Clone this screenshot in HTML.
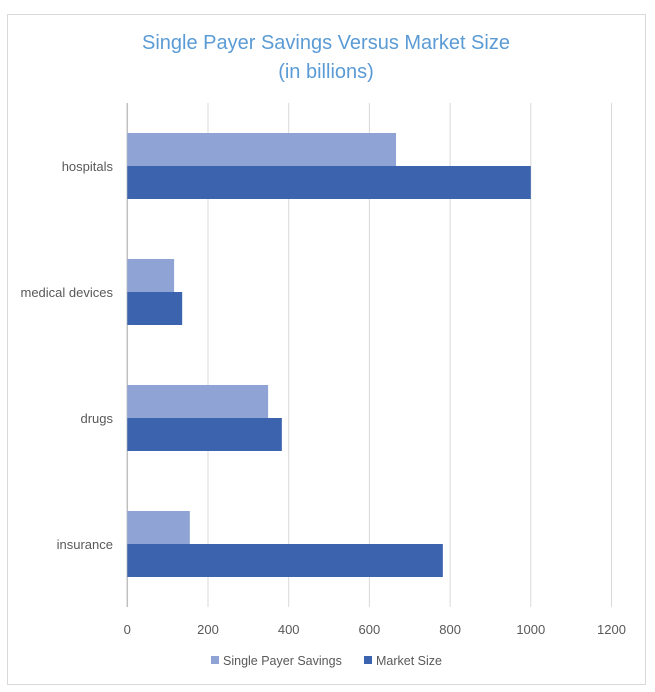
<!DOCTYPE html>
<html><head><meta charset="utf-8"><style>
body{margin:0;background:#fff;}
svg{display:block;font-family:"Liberation Sans",sans-serif;}
</style></head><body>
<svg id="chart" width="655" height="692">
<rect x="7.5" y="14.5" width="638" height="670" fill="#fff" stroke="#d9d9d9"/>
<text x="326" y="49" text-anchor="middle" font-size="20" fill="#5b9bd5">Single Payer Savings Versus Market Size</text>
<text x="326" y="78" text-anchor="middle" font-size="20" fill="#5b9bd5">(in billions)</text>
<g id="grid"></g><g id="bars"></g><g id="labels"></g>
<g>
<rect x="211" y="656" width="8" height="8" fill="#8fa4d5"/>
<text x="223" y="665" font-size="12.5" fill="#595959">Single Payer Savings</text>
<rect x="364" y="656" width="8" height="8" fill="#3b63ae"/>
<text x="376" y="665" font-size="12.5" fill="#595959">Market Size</text>
</g>
</svg>
<script>
const categories = ["hospitals","medical devices","drugs","insurance"];
const savings = [666,116,349,155];
const marketSize = [1000,136,383,782];
const ticks = [0,200,400,600,800,1000,1200];
const NS="http://www.w3.org/2000/svg";
const x0=127.3, pxPer=0.4035, plotTop=103, plotBottom=607;
const band=(plotBottom-plotTop)/categories.length, barH=33;
const xs=v=>x0+v*pxPer;
function mk(t,a,p){const e=document.createElementNS(NS,t);for(const k in a)e.setAttribute(k,a[k]);p.appendChild(e);return e;}
const grid=document.getElementById('grid'),bars=document.getElementById('bars'),labels=document.getElementById('labels');
ticks.forEach(t=>{
  const l=mk('line',{x1:xs(t),x2:xs(t),y1:plotTop,y2:plotBottom,stroke:t===0?'#bfbfbf':'#d9d9d9','stroke-width':t===0?1.5:1},grid);
  
  
  const tx=mk('text',{x:xs(t),y:634,'text-anchor':'middle','font-size':13,fill:'#595959'},labels);
  tx.textContent=t;
  
  
});
categories.forEach((c,i)=>{
  const cy=plotTop+band*(i+0.5);
  const b1=mk('rect',{x:x0,y:cy-barH,width:xs(savings[i])-x0,height:barH,fill:'#8fa4d5'},bars);
  
  
  const b2=mk('rect',{x:x0,y:cy,width:xs(marketSize[i])-x0,height:barH,fill:'#3b63ae'},bars);
  
  
  const tx=mk('text',{x:113,y:cy+5,'text-anchor':'end','font-size':13,fill:'#595959'},labels);
  tx.textContent=c;
  
  
});
</script>
</body></html>
